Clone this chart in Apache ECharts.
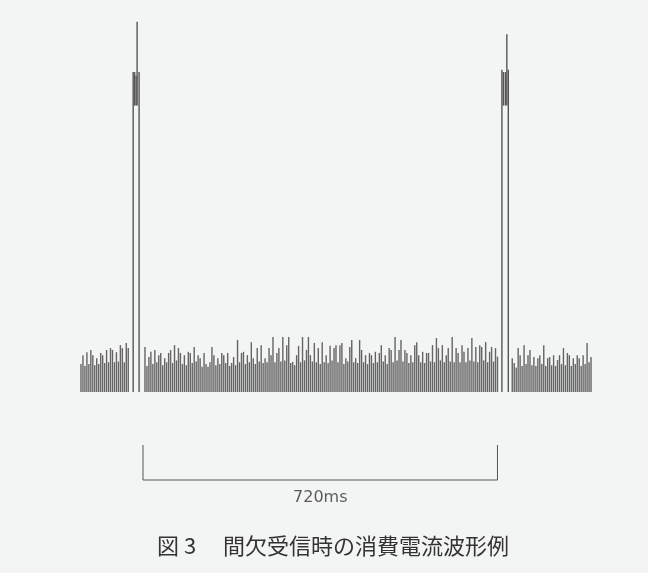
<!DOCTYPE html>
<html>
<head>
<meta charset="utf-8">
<script src="https://cdn.jsdelivr.net/npm/echarts@6/dist/echarts.min.js"></script>
<style>html,body{margin:0;padding:0;background:#f3f5f4;}#c{width:648px;height:573px;}</style>
</head>
<body>
<div id="c"></div>
<script>
// time axis in ms, current in arbitrary units
const STEP_MS = 4;
const noiseAStart = 2;
const noiseA = [7.5,9.9,7.0,10.7,7.5,11.3,9.9,7.2,9.1,7.5,10.5,9.9,7.8,11.3,8.0,11.8,11.3,8.0,10.7,8.2,12.6,11.8,8.0,13.2,11.8];
const noiseBStart = 132;
const noiseB = [12.1,7.0,9.4,10.8,7.5,11.3,8.0,9.9,10.5,7.2,9.1,8.0,10.5,11.3,7.8,12.6,8.5,11.8,10.5,7.5,
9.9,7.2,10.8,10.5,7.8,12.1,8.2,9.9,9.1,6.8,10.5,7.5,6.8,8.0,12.1,9.9,7.2,9.1,7.5,10.5,
9.9,7.8,10.5,7.0,7.8,9.4,7.2,14.0,8.0,10.5,10.8,7.5,9.9,8.0,13.4,9.1,7.5,11.8,8.2,12.6,
7.8,9.1,8.0,11.8,9.9,14.8,8.0,10.5,11.8,8.2,14.8,8.5,12.6,14.8,7.8,8.1,7.2,9.9,12.4,8.0,
14.8,8.5,11.3,14.8,9.9,8.2,13.2,8.0,11.8,7.5,13.4,8.0,9.9,7.8,12.4,8.5,11.8,12.6,8.0,12.6,
13.2,7.5,9.1,8.2,12.1,14.0,8.0,9.1,7.8,14.0,11.3,8.0,9.9,7.5,10.5,9.9,7.8,10.8,8.0,10.5,
12.6,8.2,9.9,7.5,11.8,11.3,8.0,14.8,8.5,11.3,14.0,8.2,11.3,10.5,7.8,9.9,8.0,12.6,13.4,9.9,
8.0,10.8,7.8,10.5,10.5,8.2,12.6,8.0,14.5,11.8,8.5,12.6,8.0,9.9,11.8,8.2,14.8,8.0,11.8,10.5,
8.0,12.6,10.8,8.0,11.8,8.5,14.5,8.2,12.1,8.0,12.6,12.1,8.5,13.4,8.0,10.8,12.1,8.2,11.8,9.5];
const noiseCStart = 878;
const noiseC = [9.1,7.8,6.5,11.8,9.9,7.0,12.6,7.5,9.9,11.3,7.2,9.4,7.0,9.1,9.9,7.5,12.6,7.0,9.1,9.4,
7.2,9.9,7.0,8.6,9.9,7.5,11.8,7.2,10.5,9.9,7.0,9.1,7.5,9.9,9.1,7.0,9.9,7.5,13.2,8.0,9.4];
// spikes (receive bursts): time, lower end, upper end
const spikeTimes = [108,111,114,116,120, 857,860,864,867,870];
const spikeLow   = [0,77,77,77,0, 0,77,77,77,0];
const spikeHigh  = [86,86,85,99.5,86, 86.6,86,86,96.2,86.6];
// period marker
const periodStart = 128, periodEnd = 848;
const periodLabel = '720ms';
const caption = '図 3\u3000 間欠受信時の消費電流波形例';

function seg(start, arr){ return arr.map((v,i)=>[start + i*STEP_MS, v]); }
const noiseData = seg(noiseAStart, noiseA).concat(seg(noiseBStart, noiseB), seg(noiseCStart, noiseC));
const spikeData = spikeTimes.map((t,i)=>[t, spikeLow[i], spikeHigh[i]]);

const chart = echarts.init(document.getElementById('c'), null, {renderer:'canvas'});
chart.setOption({
  backgroundColor:'#f3f5f4',
  animation:false,
  title:{text:caption, left:152, top:530, textStyle:{fontFamily:'Noto Sans CJK JP', fontSize:22, fontWeight:'normal', color:'#333'}},
  grid:[
    {left:80, width:512, top:20, height:372},
    {left:80, width:512, top:445, height:70}
  ],
  xAxis:[
    {type:'value', min:0, max:1040, show:false, gridIndex:0},
    {type:'value', min:0, max:1040, show:false, gridIndex:1}
  ],
  yAxis:[
    {type:'value', min:0, max:100, show:false, gridIndex:0},
    {type:'value', min:-1, max:1, show:false, gridIndex:1}
  ],
  series:[
    {type:'bar', data:noiseData, barWidth:1.4, itemStyle:{color:'#646464'}, xAxisIndex:0, yAxisIndex:0, silent:true},
    {type:'custom', data:spikeData, xAxisIndex:0, yAxisIndex:0, silent:true,
      renderItem:function(params, api){
        const p0 = api.coord([api.value(0), api.value(1)]);
        const p1 = api.coord([api.value(0), api.value(2)]);
        return {type:'rect', shape:{x:p0[0]-0.7, y:p1[1], width:1.4, height:p0[1]-p1[1]}, style:{fill:'#555'}};
      }},
    {type:'line', xAxisIndex:1, yAxisIndex:1, symbol:'none', silent:true,
      data:[[periodStart,1],[periodStart,0],[periodEnd,0],[periodEnd,1]],
      lineStyle:{color:'#555', width:1}},
    {type:'scatter', xAxisIndex:1, yAxisIndex:1, symbolSize:0, silent:true,
      data:[[(periodStart+periodEnd)/2, -0.5]],
      label:{show:true, position:'inside', formatter:periodLabel, fontFamily:'DejaVu Sans', fontSize:16, color:'#333'}}
  ]
});
</script>
</body>
</html>
